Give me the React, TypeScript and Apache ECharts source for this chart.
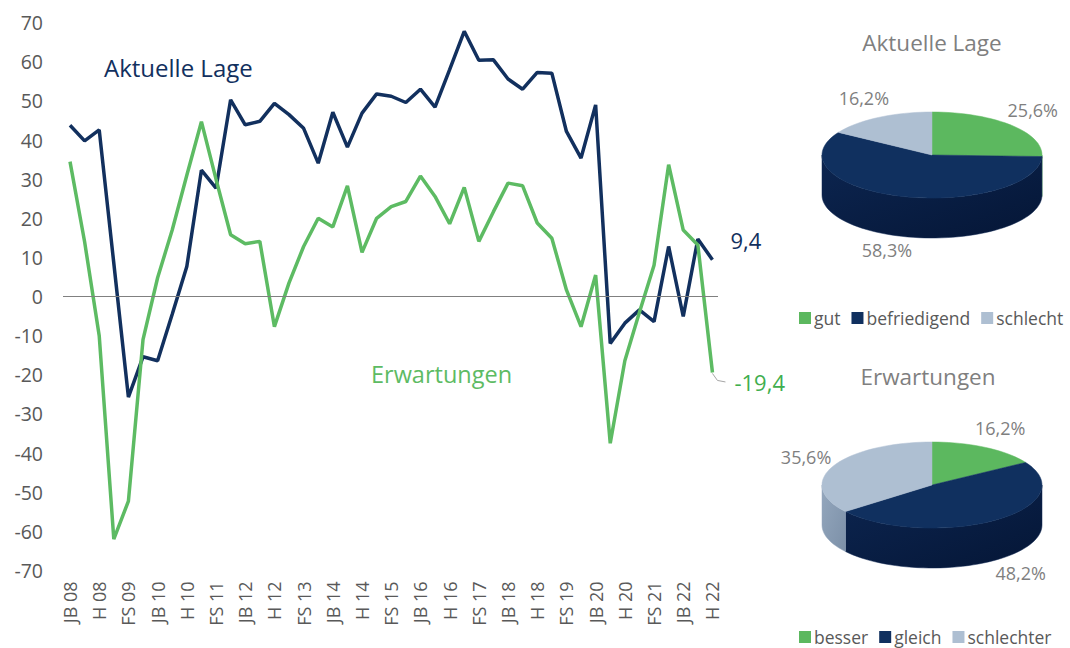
import React, { useEffect, useRef } from "react";
import * as echarts from "echarts";

const categories = [
  "JB 08", "FS 08", "H 08", "JB 09", "FS 09", "H 09", "JB 10", "FS 10", "H 10",
  "JB 11", "FS 11", "H 11", "JB 12", "FS 12", "H 12", "JB 13", "FS 13", "H 13",
  "JB 14", "FS 14", "H 14", "JB 15", "FS 15", "H 15", "JB 16", "FS 16", "H 16",
  "JB 17", "FS 17", "H 17", "JB 18", "FS 18", "H 18", "JB 19", "FS 19", "H 19",
  "JB 20", "FS 20", "H 20", "JB 21", "FS 21", "H 21", "JB 22", "FS 22", "H 22",
];

const lageValues = [
  43.8, 39.8, 42.6, 8.5, -25.7, -15.4, -16.4, -4.5, 7.7,
  32.3, 27.7, 50.3, 43.9, 44.8, 49.4, 46.5, 43.0, 34.1,
  47.1, 38.2, 46.9, 51.8, 51.2, 49.6, 53.0, 48.4, 58.0,
  67.8, 60.4, 60.5, 55.6, 53.0, 57.3, 57.1, 42.2, 35.4,
  49.0, -12.0, -6.8, -3.4, -6.4, 12.8, -5.1, 14.7, 9.4,
];

const erwartungValues = [
  34.5, 14.0, -10.0, -62.0, -52.3, -11.0, 4.8, 17.0, 31.0,
  44.7, 30.0, 15.8, 13.5, 14.1, -7.7, 3.5, 12.8, 20.0,
  17.8, 28.3, 11.3, 20.0, 23.0, 24.3, 30.8, 25.6, 18.6,
  27.9, 14.1, 21.7, 29.0, 28.3, 18.8, 14.9, 1.7, -7.7,
  5.5, -37.5, -16.4, -4.0, 8.0, 33.7, 17.0, 13.2, -19.4,
];

const xLabelIndices = categories.map((_, i) => i).filter((i) => i % 2 === 0);

const lagePieNames = ["gut", "befriedigend", "schlecht"];
const lagePieValues = [25.6, 58.3, 16.2];
const erwPieNames = ["besser", "gleich", "schlechter"];
const erwPieValues = [16.2, 48.2, 35.6];

const FONT = '"Open Sans", "Noto Sans", sans-serif';
const NAVY = "#12305e";
const GREEN = "#5dbb63";
const GRAY_TEXT = "#595959";
const PIE_TEXT = "#7f7f7f";

const sliceTop = ["#5cb85f", "#10305f", "#aebfd2"];
const sliceSide = [
  ["#4a9c4f", "#3a8040"],
  ["#0c2550", "#051636"],
  ["#94a7bd", "#7c90a8"],
];

const fmt = (v: number) => String(v).replace(".", ",");

type PieCfg = {
  names: string[];
  values: number[];
  cx: number;
  cy: number;
};

const RX = 110;
const RY = 43;
const DEPTH = 40;

function arcPoints(cx: number, cy: number, a1: number, a2: number, dy: number) {
  const pts: number[][] = [];
  const n = Math.max(2, Math.ceil(Math.abs(a1 - a2) / 3));
  for (let k = 0; k <= n; k++) {
    const t = ((a1 + (a2 - a1) * (k / n)) * Math.PI) / 180;
    pts.push([cx + RX * Math.cos(t), cy - RY * Math.sin(t) + dy]);
  }
  return pts;
}

function sliceSeries(pie: PieCfg, j: number) {
  return {
    type: "custom",
    name: pie.names[j],
    coordinateSystem: "none",
    silent: true,
    itemStyle: { color: sliceTop[j] },
    data: [[pie.values[j]]],
    renderItem: (_params: any, api: any) => {
      const total = pie.values.reduce((a, b) => a + b, 0);
      const before = pie.values.slice(0, j).reduce((a, b) => a + b, 0);
      const v = api.value(0);
      const a1 = 90 - (360 * before) / total;
      const a2 = 90 - (360 * (before + v)) / total;
      const children: any[] = [];
      for (const k of [-1, 0, 1]) {
        const lo = Math.max(a2, -180 + 360 * k);
        const hi = Math.min(a1, 360 * k);
        if (hi > lo) {
          const top = arcPoints(pie.cx, pie.cy, hi, lo, 0);
          const bot = arcPoints(pie.cx, pie.cy, hi, lo, DEPTH).reverse();
          children.push({
            type: "polygon",
            shape: { points: top.concat(bot) },
            style: {
              fill: {
                type: "linear", x: 0, y: 0, x2: 1, y2: 1,
                colorStops: [
                  { offset: 0, color: sliceSide[j][0] },
                  { offset: 1, color: sliceSide[j][1] },
                ],
              },
              stroke: sliceSide[j][0],
              lineWidth: 0.5,
            },
          });
        }
      }
      const topPts = [[pie.cx, pie.cy]].concat(arcPoints(pie.cx, pie.cy, a1, a2, 0));
      children.push({
        type: "polygon",
        shape: { points: topPts },
        style: { fill: sliceTop[j], stroke: sliceTop[j], lineWidth: 0.5 },
      });
      const mid = (((a1 + a2) / 2) * Math.PI) / 180;
      const below = Math.sin(mid) < 0;
      const lx = pie.cx + (below ? 155 : 140) * Math.cos(mid);
      const ly = pie.cy - (below ? 58 : 65) * Math.sin(mid) + (below ? DEPTH : 0);
      children.push({
        type: "text",
        style: {
          text: fmt(v) + "%",
          x: lx,
          y: ly,
          fill: PIE_TEXT,
          fontSize: 18,
          fontFamily: FONT,
          align: "center",
          verticalAlign: "middle",
        },
      });
      return { type: "group", children };
    },
  };
}

export default function App() {
  const ref = useRef<HTMLDivElement>(null);

  useEffect(() => {
    if (!ref.current) return;
    const chart = echarts.init(ref.current, undefined, { renderer: "svg" });

    const pie1: PieCfg = { names: lagePieNames, values: lagePieValues, cx: 932, cy: 155 };
    const pie2: PieCfg = { names: erwPieNames, values: erwPieValues, cx: 932, cy: 485 };

    const graphicTexts: any[] = [
      {
        type: "text", left: 104, top: 55,
        style: { text: "Aktuelle Lage", fill: NAVY, fontSize: 24, fontFamily: FONT },
      },
      {
        type: "text", left: 371, top: 362,
        style: { text: "Erwartungen", fill: GREEN, fontSize: 23.5, fontFamily: FONT },
      },
      {
        type: "text", x: 932, y: 42,
        style: { text: "Aktuelle Lage", fill: PIE_TEXT, fontSize: 22.5, fontFamily: FONT, align: "center", verticalAlign: "middle" },
      },
      {
        type: "text", x: 928, y: 376,
        style: { text: "Erwartungen", fill: PIE_TEXT, fontSize: 22.5, fontFamily: FONT, align: "center", verticalAlign: "middle" },
      },
    ];

    const legendCommon = {
      orient: "horizontal",
      icon: "rect",
      itemWidth: 12,
      itemHeight: 12,
      itemGap: 11,
      width: 300,
      padding: 0,
      selectedMode: false,
      textStyle: { fontSize: 17.5, lineHeight: 18, color: GRAY_TEXT, fontFamily: FONT, padding: [0, 0, 0, -2] },
    };

    const option: any = {
      animation: false,
      textStyle: { fontFamily: FONT },
      grid: { left: 63, right: 352, top: 22.7, bottom: 77.6 },
      xAxis: {
        type: "value",
        min: -0.48,
        max: 44.38,
        axisLine: { show: false },
        axisTick: { show: false },
        splitLine: { show: false },
        axisLabel: {
          customValues: xLabelIndices,
          formatter: (v: number) => categories[Math.round(v)] ?? "",
          rotate: 90,
          fontSize: 18,
          color: GRAY_TEXT,
          margin: 11,
          fontFamily: FONT,
        },
      },
      yAxis: {
        type: "value",
        min: -70,
        max: 70,
        interval: 10,
        axisLine: { show: false },
        axisTick: { show: false },
        splitLine: { show: false },
        axisLabel: { fontSize: 19.5, color: GRAY_TEXT, margin: 20, fontFamily: FONT },
      },
      legend: [
        { ...legendCommon, data: lagePieNames, left: 799, top: 309 },
        { ...legendCommon, data: erwPieNames, left: 799, top: 628 },
      ],
      series: [
        {
          type: "line",
          data: [],
          z: 1,
          markLine: {
            silent: true,
            symbol: ["none", "none"],
            label: { show: false },
            lineStyle: { color: "#808080", width: 1, type: "solid" },
            data: [{ yAxis: 0 }],
          },
        },
        {
          type: "line",
          name: "Aktuelle Lage",
          z: 3,
          data: categories.map((_, i) => [i, lageValues[i]]),
          symbol: "none",
          lineStyle: { color: NAVY, width: 3.5 },
          itemStyle: { color: NAVY },
          endLabel: {
            show: true,
            formatter: () => fmt(lageValues[lageValues.length - 1]),
            color: NAVY,
            fontSize: 22,
            fontFamily: FONT,
            offset: [10, -20],
          },
        },
        {
          type: "line",
          name: "Erwartungen",
          z: 4,
          data: categories.map((_, i) => [i, erwartungValues[i]]),
          symbol: "none",
          lineStyle: { color: GREEN, width: 3.5 },
          itemStyle: { color: GREEN },
          endLabel: {
            show: true,
            formatter: () => fmt(erwartungValues[erwartungValues.length - 1]),
            color: "#3fae4e",
            fontSize: 22,
            fontFamily: FONT,
            offset: [14, 10],
          },
        },
        ...lagePieNames.map((_, j) => sliceSeries(pie1, j)),
        ...erwPieNames.map((_, j) => sliceSeries(pie2, j)),
      ],
      graphic: graphicTexts,
    };

    chart.setOption(option);

    const last = erwartungValues.length - 1;
    const p = chart.convertToPixel({ xAxisIndex: 0, yAxisIndex: 0 }, [last, erwartungValues[last]]) as number[];
    if (p && isFinite(p[0])) {
      chart.setOption({
        graphic: graphicTexts.concat([
          {
            type: "polyline",
            silent: true,
            shape: { points: [[p[0], p[1] + 1], [p[0] + 5, p[1] + 8], [p[0] + 13, p[1] + 9.5]] },
            style: { stroke: "#a6a6a6", lineWidth: 1, fill: "none" },
          },
        ]),
      });
    }

    return () => chart.dispose();
  }, []);

  return (
    <div
      ref={ref}
      style={{ position: "absolute", left: 0, top: 0, width: 1070, height: 648, background: "#fff" }}
    />
  );
}
